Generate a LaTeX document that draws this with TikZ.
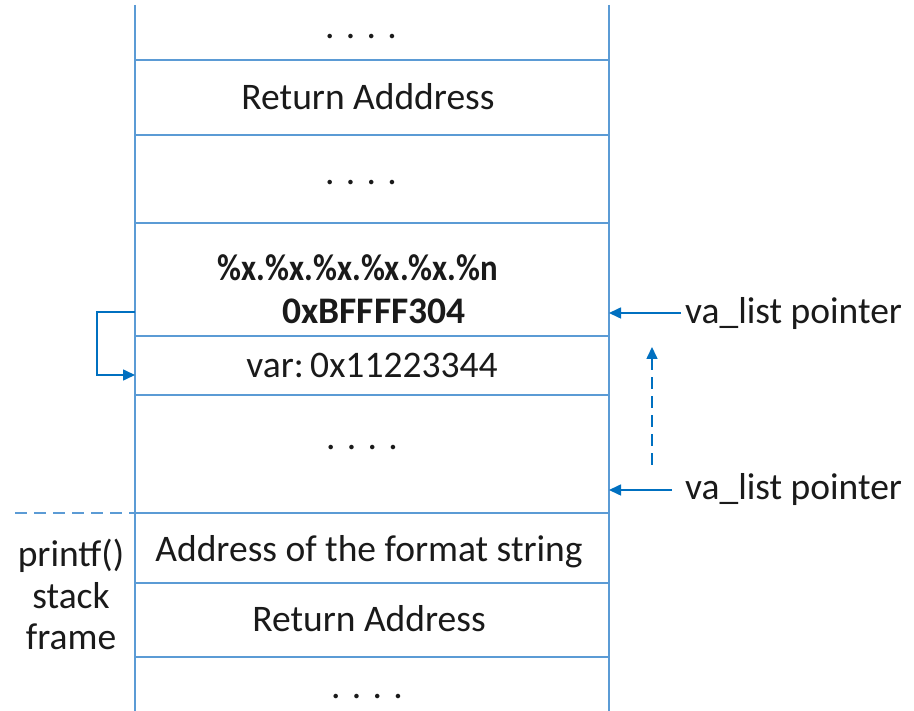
\documentclass[tikz,border=0pt]{standalone}
\usepackage{fontspec}
\setmainfont{Carlito}
\usetikzlibrary{arrows.meta}
\definecolor{stackblue}{HTML}{5B9BD5}
\definecolor{arrowblue}{HTML}{0070C0}
\definecolor{txt}{HTML}{1A1A1A}
\tikzset{
  stackline/.style={draw=stackblue, line width=2.8pt},
  ptr/.style={draw=arrowblue, line width=1.6pt, -{Triangle[length=12pt,width=11pt]}},
  dptr/.style={ptr, dash pattern=on 12pt off 7pt},
  cell/.style={text=txt, font=\fontsize{37.5}{42}\selectfont, inner sep=0pt, anchor=base},
  lbl/.style={text=txt, font=\fontsize{37.5}{42}\selectfont, inner sep=0pt, anchor=base west},
}
\begin{document}
\begin{tikzpicture}[x=1pt,y=-1pt]
\useasboundingbox (0,0) rectangle (914,711);
% stack walls
\draw[stackline] (135,5) -- (135,711);
\draw[stackline] (609,5) -- (609,711);
\foreach \yy in {60,135,223,336,395,513,583,657}
  \draw[stackline] (135,\yy) -- (609,\yy);
\draw[draw=stackblue, line width=2pt, dash pattern=on 12pt off 7pt] (15,513) -- (135,513);
% cell texts
\node[cell] (d1) at (361,39) {. . . .};
\node[cell] (ra1) at (368,110) {Return Adddress};
\node[cell] (d2) at (361,185) {. . . .};
\node[cell, font=\fontsize{37.5}{42}\selectfont\bfseries] (fmt) at (358,281) {\scalebox{0.875}[1]{\%x.\%x.\%x.\%x.\%x.\%n}};
\node[cell, font=\fontsize{37.5}{42}\selectfont\bfseries] (addr) at (374,324) {0xBFFFF304};
\node[cell] (var) at (372,378) {var:\,0x11223344};
\node[cell] (d3) at (362,450) {. . . .};
\node[cell] (afs) at (369,561) {Address of the format string};
\node[cell] (ra2) at (369,631) {Return Address};
\node[cell] (d4) at (367,698) {. . . .};
% left label
\node[cell] (pf1) at (71,566) {printf()};
\node[cell] (pf2) at (71,608) {stack};
\node[cell] (pf3) at (71,649) {frame};
% pointer labels
\node[lbl] (vp1) at (685,324) {va\_list pointer};
\node[lbl] (vp2) at (685,500) {va\_list pointer};
% arrows
\coordinate (w1) at (609,313);
\coordinate (w2) at (609,490);
\draw[ptr] (681,313) -- (w1);
\draw[ptr] (672,490) -- (w2);
\coordinate (ds) at (652,465);
\coordinate (de) at (652,347);
\draw[dptr] (ds) -- (de);
\coordinate (b1) at (135,312);
\coordinate (b2) at (135,375);
\draw[ptr] (b1) -- (97,312) -- (97,375) -- (b2);
\end{tikzpicture}
\end{document}
